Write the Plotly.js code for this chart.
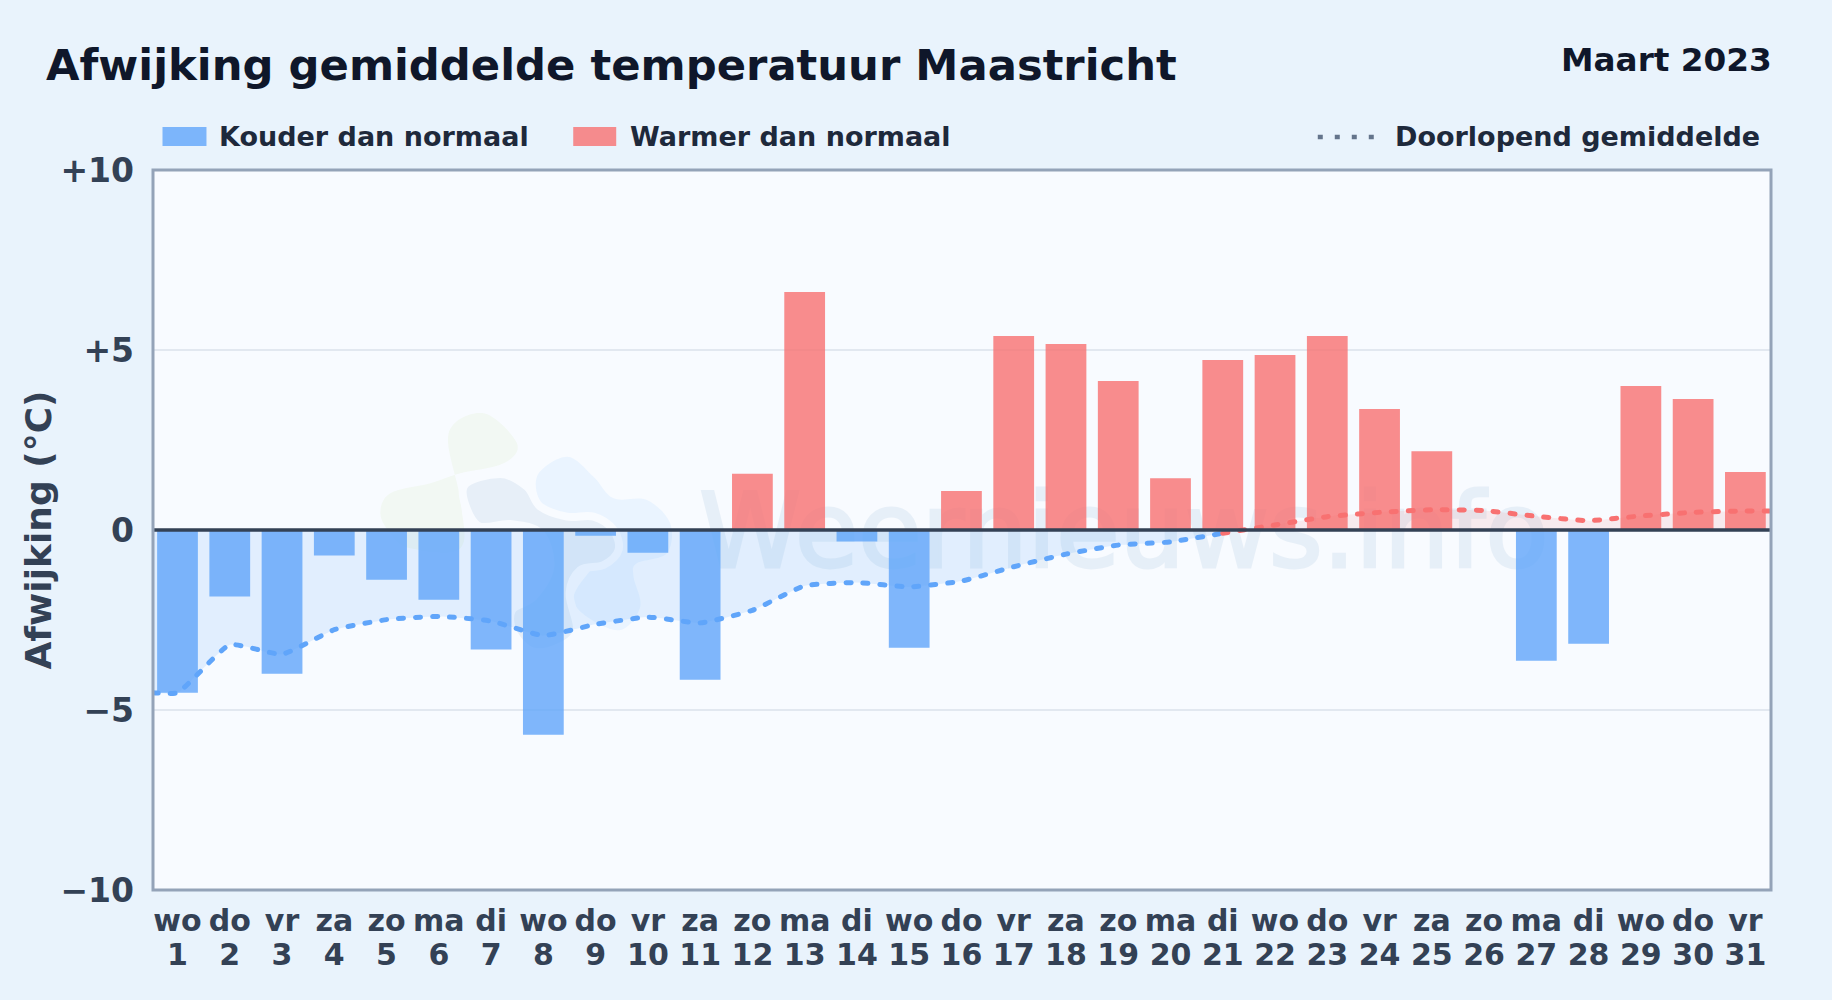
<!DOCTYPE html>
<html>
<head>
<meta charset="utf-8">
<script src="https://cdn.plot.ly/plotly-3.0.1.min.js"></script>
<style>
html,body{margin:0;padding:0;background:#e9f3fc;}
#chart{width:1832px;height:1000px;}
.scatterlayer .js-line{stroke-linecap:round;}
.shapelayer text{stroke:rgb(40,110,170);stroke-width:3px;opacity:0.08;}
</style>
</head>
<body>
<div id="chart"></div>
<script>
const days = [1,2,3,4,5,6,7,8,9,10,11,12,13,14,15,16,17,18,19,20,21,22,23,24,25,26,27,28,29,30,31];
const weekdays = ['wo','do','vr','za','zo','ma','di','wo','do','vr','za','zo','ma','di','wo','do','vr','za','zo','ma','di','wo','do','vr','za','zo','ma','di','wo','do','vr'];
const coldValues = [-4.52,-1.85,-3.99,-0.71,-1.38,-1.94,-3.32,-5.69,-0.16,-0.63,-4.16,null,null,-0.32,-3.27,null,null,null,null,null,null,null,null,null,null,null,-3.63,-3.16,null,null,null];
const warmValues = [null,null,null,null,null,null,null,null,null,null,null,1.56,6.61,null,null,1.08,5.39,5.17,4.14,1.44,4.72,4.86,5.39,3.36,2.19,0,null,null,4.0,3.64,1.61];
const meanColdX = [0.531,1,2,3,4,5,6,7,8,9,10,11,12,13,14,15,16,17,18,19,20,21];
const meanColdY = [-4.52,-4.52,-3.19,-3.45,-2.77,-2.49,-2.40,-2.53,-2.93,-2.62,-2.42,-2.58,-2.23,-1.55,-1.46,-1.58,-1.42,-1.02,-0.67,-0.42,-0.33,-0.09];
const meanWarmX = [21,22,23,24,25,26,27,28,29,30,31,31.49];
const meanWarmY = [-0.09,0.14,0.37,0.49,0.56,0.54,0.38,0.26,0.39,0.49,0.53,0.53];
const yTickVals = [-10,-5,0,5,10];
const yTickText = ['\u221210','\u22125','0','+5','+10'];

const COLD='#60a5fa', WARM='#f87171', INK='#334155', DARK='#0f172a', LEGEND='#1e293b';
const FONT='"DejaVu Sans", sans-serif';
const W=1832,H=1000, L=152.5,R=1771.5,T=170,B=890;
const px=(x)=>(x-L)/(R-L), py=(y)=>(B-y)/(B-T);

// watermark logo outlines, in pixels of the picture
const blobGreen=[[265,100],[370,40],[470,130],[430,190],[300,220],[210,250],[90,280],[60,340],[90,400],[150,445],[300,445],[300,300]];
const blobBlue=[[530,230],[620,170],[700,230],[760,295],[860,300],[930,370],[920,460],[830,490],[820,530],[840,620],[780,690],[680,650],[640,590],[700,500],[760,440],[700,350],[560,330]];
const blobGrey=[[310,260],[420,222],[500,260],[540,320],[620,350],[700,350],[760,390],[775,450],[730,495],[660,510],[628,580],[650,690],[600,740],[520,755],[460,700],[455,630],[520,590],[570,500],[540,400],[450,372],[350,375]];
function blobPath(pts){
  const p=pts.map(([a,b])=>[px(360+a/3),py(400+b/3)]), n=p.length;
  let d=`M${p[0][0]},${p[0][1]}`;
  for(let i=0;i<n;i++){
    const a=p[(i-1+n)%n],b=p[i],c=p[(i+1)%n],e=p[(i+2)%n];
    d+=`C${b[0]+(c[0]-a[0])/6},${b[1]+(c[1]-a[1])/6} ${c[0]-(e[0]-b[0])/6},${c[1]-(e[1]-b[1])/6} ${c[0]},${c[1]}`;
  }
  return d+'Z';
}

const bar=(name,y,c)=>({type:'bar',name,x:days,y,width:0.78,marker:{color:c,opacity:0.8,line:{width:0}},showlegend:false,hoverinfo:'x+y'});
const mean=(name,x,y,c,fill)=>({type:'scatter',mode:'lines',name,x,y,fill:'tozeroy',fillcolor:fill,
  line:{color:c,width:5,dash:'5px,12px',shape:'spline',smoothing:0.45},showlegend:false,hoverinfo:'x+y'});

const traces=[
  bar('Kouder dan normaal',coldValues,COLD),
  bar('Warmer dan normaal',warmValues,WARM),
  mean('Doorlopend gemiddelde',meanColdX,meanColdY,COLD,'rgba(96,165,250,0.15)'),
  mean('Doorlopend gemiddelde (warm)',meanWarmX,meanWarmY,WARM,'rgba(248,113,113,0.12)')
];

const pageNote=(text,x,y,size,color,anchor)=>({text,x:px(x),y:py(y),xref:'paper',yref:'paper',xanchor:anchor||'left',yanchor:'middle',
  showarrow:false,font:{family:FONT,size,color,weight:700}});

const layout={
  width:W,height:H,
  margin:{l:L,r:W-R,t:T,b:H-B,pad:0},
  paper_bgcolor:'#e9f3fc',plot_bgcolor:'#f8fbff',
  barmode:'overlay',showlegend:false,
  font:{family:FONT,color:INK},
  xaxis:{range:[0.531,31.49],tickmode:'array',tickvals:days,ticktext:days.map((d,i)=>weekdays[i]+'<br>'+d),
    tickfont:{family:FONT,size:30,color:INK,weight:700},ticks:'',ticklen:0,showgrid:false,zeroline:false,
    showline:false,automargin:false,tickangle:0,ticklabelstandoff:10},
  yaxis:{range:[-10,10],tickmode:'array',tickvals:yTickVals,ticktext:yTickText,
    tickfont:{family:FONT,size:33,color:INK,weight:700},ticks:'',ticklabelstandoff:18,showgrid:true,gridcolor:'#e2e8f0',gridwidth:2,zeroline:false,
    showline:false,automargin:false,
    title:{text:'Afwijking (°C)',font:{family:FONT,size:36,color:INK,weight:700},standoff:0}},
  shapes:[
    {type:'path',xref:'paper',yref:'paper',layer:'below',path:blobPath(blobGreen),fillcolor:'rgba(132,204,22,0.05)',line:{width:0}},
    {type:'path',xref:'paper',yref:'paper',layer:'below',path:blobPath(blobBlue),fillcolor:'rgba(56,160,248,0.07)',line:{width:0}},
    {type:'path',xref:'paper',yref:'paper',layer:'below',path:blobPath(blobGrey),fillcolor:'#e7eff8',line:{width:8,color:'#f8fbff'}},
    {type:'rect',xref:'paper',yref:'paper',layer:'below',x0:px(700),x1:px(1548),y0:py(584),y1:py(464),fillcolor:'rgba(0,0,0,0)',line:{width:0},
      label:{text:'Weernieuws.info',textposition:'middle center',font:{family:FONT,size:103,color:'rgb(40,110,170)',weight:400}}},
    {type:'line',xref:'paper',yref:'y',layer:'above',x0:0,x1:1,y0:0,y1:0,line:{color:INK,width:3.5}},
    {type:'rect',xref:'paper',yref:'paper',layer:'above',x0:0,x1:1,y0:0,y1:1,fillcolor:'rgba(0,0,0,0)',line:{color:'#94a3b8',width:3}},
    {type:'rect',xref:'paper',yref:'paper',x0:px(162),x1:px(206),y0:py(146),y1:py(127),fillcolor:COLD,opacity:0.8,line:{width:0}},
    {type:'rect',xref:'paper',yref:'paper',x0:px(573),x1:px(616),y0:py(146),y1:py(127),fillcolor:WARM,opacity:0.8,line:{width:0}},
    {type:'line',xref:'paper',yref:'paper',x0:px(1318),x1:px(1375),y0:py(137),y1:py(137),line:{color:'#64748b',width:4.5,dash:'5px,12px'}}
  ],
  annotations:[
    pageNote('Afwijking gemiddelde temperatuur Maastricht',43.5,65,43.3,DARK),
    pageNote('Maart 2023',1775,60,32.7,DARK,'right'),
    pageNote('Kouder dan normaal',217,137,27,LEGEND),
    pageNote('Warmer dan normaal',628,137,27,LEGEND),
    pageNote('Doorlopend gemiddelde',1393,137,27,LEGEND)
  ]
};
Plotly.newPlot('chart',traces,layout,{displayModeBar:false,responsive:false}).then(()=>{
  // the two label lines sit closer together than Plotly's default spacing
  document.querySelectorAll('.xtick text tspan.line').forEach((t)=>{
    if(parseFloat(t.getAttribute('dy'))>0) t.setAttribute('dy','1.13em');
  });
  // nudge the rotated y title to the reference position
  const yt=document.querySelector('.ytitle');
  if(yt){
    const x=parseFloat(yt.getAttribute('x'))+2.5, y=parseFloat(yt.getAttribute('y'));
    yt.setAttribute('x',x);
    yt.setAttribute('transform',`rotate(-90,${x},${y})`);
    yt.querySelectorAll('tspan[x]').forEach(t=>t.setAttribute('x',x));
  }
});
</script>
</body>
</html>
